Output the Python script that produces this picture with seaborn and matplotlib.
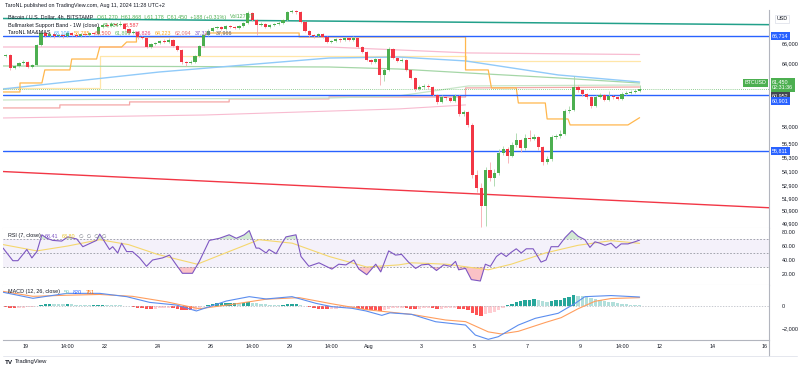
"""BTCUSD 4h chart (TradingView screenshot, Aug 11 2024) redrawn with seaborn."""

import numpy as np
import matplotlib
matplotlib.use('Agg')
import matplotlib.pyplot as plt
import seaborn as sns
from matplotlib.lines import Line2D
from matplotlib.offsetbox import TextArea, HPacker, AnchoredOffsetbox
from matplotlib.ticker import FixedLocator, FixedFormatter, NullLocator

# x unit everywhere: day of July (Aug 1 = 32), local time UTC+2
first_candle_day = 18 + 2 / 24   # first 4h candle opens Jul 18 02:00

opens = [64885, 64684, 64784, 63493, 63690, 63986, 64085, 63591, 63788, 65796,
         67030, 66719, 66926, 66719, 66823, 66719, 67030, 66823, 66719, 66926,
         66823, 67030, 66926, 67656, 67866, 67761, 67972, 67866, 67972, 67447,
         67030, 67134, 66616, 66513, 65592, 65898, 66000, 66205, 66102, 66307,
         65694, 65288, 64085, 63986, 64085, 64684, 65694, 66823, 67238, 67552,
         67656, 67447, 67761, 67656, 67552, 67761, 68077, 69140, 68394, 67866,
         67972, 67656, 67866, 67972, 68077, 68394, 69248, 69355, 69248, 68183,
         67238, 66823, 66719, 66926, 66616, 66102, 66205, 66410, 66307, 66513,
         66307, 66513, 65592, 65086, 64284, 64085, 64384, 62808, 63296, 65389,
         64484, 64185, 64284, 63296, 62516, 61460, 61651, 61747, 61651, 60892,
         60235, 60703, 60609, 60328, 60797, 59126, 59309, 58127, 53795, 52722,
         51273, 54213, 53546, 53962, 55660, 56006, 55402, 56354, 56792, 56093,
         56968, 56880, 57056, 56180, 54889, 55145, 57056, 57145, 57322, 59401,
         59493, 61651, 61365, 60986, 60703, 59863, 60703, 60892, 60422, 60797,
         60703, 60515, 60986, 61081, 61175, 61270]
highs = [65000, 64900, 64880, 63800, 64100, 64250, 64200, 63900, 65900, 67300,
         67150, 67050, 67000, 66950, 66900, 67150, 67100, 66900, 67000, 67050,
         67150, 67100, 67800, 68000, 68050, 68150, 68100, 68250, 68100, 67550,
         67300, 67200, 66750, 66600, 66000, 66150, 66350, 66400, 66500, 66400,
         65800, 65350, 64200, 64300, 64800, 65800, 66950, 67400, 67700, 67800,
         67750, 67900, 67850, 67750, 67900, 68200, 69400, 69250, 68500, 68150,
         68050, 67950, 68100, 68250, 68550, 69400, 69550, 69500, 69400, 68300,
         67350, 66950, 67050, 67000, 66700, 66350, 66550, 66500, 66650, 66600,
         66700, 66600, 65700, 65150, 64400, 64500, 64450, 63450, 65550, 65450,
         64600, 64450, 64350, 63400, 62600, 61800, 61900, 61900, 61750, 61000,
         60850, 60800, 60750, 60950, 60900, 59500, 59400, 58300, 54200, 53100,
         54500, 54900, 54300, 56000, 56300, 56150, 56600, 57400, 56900, 57300,
         57700, 57300, 57150, 56300, 55400, 57250, 57300, 57700, 59600, 59900,
         62700, 61800, 61500, 61100, 60800, 60850, 61050, 61000, 61300, 60900,
         60800, 61150, 61250, 61350, 61450, 61868]
lows = [64580, 64550, 63300, 63350, 63600, 63900, 63450, 63500, 63650, 65700,
        66600, 66600, 66550, 66600, 66550, 66650, 66700, 66600, 66650, 66700,
        66750, 66800, 66850, 67550, 67650, 67700, 67750, 67800, 67350, 66900,
        66950, 66450, 66400, 65450, 65500, 65800, 65900, 66000, 66000, 65600,
        65150, 63900, 63700, 63850, 63950, 64600, 65600, 66700, 67150, 67400,
        67300, 67350, 67550, 67400, 67450, 67700, 68000, 68250, 66800, 67750,
        67550, 67550, 67750, 67850, 68000, 68300, 69100, 69050, 68050, 67100,
        66650, 66550, 66600, 66500, 65950, 65950, 66100, 66150, 66200, 66200,
        66250, 65450, 64950, 64150, 63900, 63950, 61850, 62200, 63200, 64350,
        64050, 64050, 63150, 62400, 61300, 61350, 61500, 61450, 60750, 60050,
        60100, 60450, 60200, 60200, 58950, 58900, 57900, 53500, 52400, 49650,
        49700, 53300, 52900, 53800, 55450, 54800, 55300, 56200, 55700, 55950,
        56700, 56750, 55900, 54650, 54700, 55000, 56900, 57000, 57200, 59200,
        59400, 61200, 60800, 60500, 59700, 59750, 60600, 60300, 60350, 60550,
        60400, 60450, 60900, 61000, 61100, 61178]
closes = [64684, 64784, 63493, 63690, 63986, 64085, 63591, 63788, 65796, 67030,
          66719, 66926, 66719, 66823, 66719, 67030, 66823, 66719, 66926, 66823,
          67030, 66926, 67656, 67866, 67761, 67972, 67866, 67972, 67447, 67030,
          67134, 66616, 66513, 65592, 65898, 66000, 66205, 66102, 66307, 65694,
          65288, 64085, 63986, 64085, 64684, 65694, 66823, 67238, 67552, 67656,
          67447, 67761, 67656, 67552, 67761, 68077, 69140, 68394, 67866, 67972,
          67656, 67866, 67972, 68077, 68394, 69248, 69355, 69248, 68183, 67238,
          66823, 66719, 66926, 66616, 66102, 66205, 66410, 66307, 66513, 66307,
          66513, 65592, 65086, 64284, 64085, 64384, 62808, 63296, 65389, 64484,
          64185, 64284, 63296, 62516, 61460, 61651, 61747, 61651, 60892, 60235,
          60703, 60609, 60328, 60797, 59126, 59309, 58127, 53795, 52722, 51273,
          54213, 53546, 53962, 55660, 56006, 55402, 56354, 56792, 56093, 56968,
          56880, 57056, 56180, 54889, 55145, 57056, 57145, 57322, 59401, 59493,
          61651, 61365, 60986, 60703, 59863, 60703, 60892, 60422, 60797, 60703,
          60515, 60986, 61081, 61175, 61270, 61450]

# drawn lines on the price pane
teal_trend_days = [18.147, 47.15]
teal_trend_prices = [68550, 67900]
red_trend_days = [18.147, 47.15]
red_trend_prices = [54080, 51130]
blue_levels = [66714, 60901, 55811]

# moving averages / bands (vertices)
ma_blue_days = [18.15, 24.07, 30.49, 33.13, 35.66, 39.17, 42.25]
ma_blue_prices = [61460, 63100, 64480, 64580, 64190, 62810, 62130]
ma_green_days = [18.15, 30.49, 33.13, 35.77, 39.17, 42.25]
ma_green_prices = [63690, 63590, 63390, 63000, 62520, 62030]
ma_lgreen_days = [18.15, 30.49, 33.13, 35.77, 42.25]
ma_lgreen_prices = [60420, 60610, 60800, 61750, 61840]
ma_pink_days = [18.15, 30.49, 33.13, 35.77, 42.25]
ma_pink_prices = [65590, 65590, 65290, 64990, 64830]
ma_gold_days = [18.15, 21.81, 21.81, 35.66, 35.66, 42.25]
ma_gold_prices = [61560, 61560, 64680, 64680, 64220, 64220]
ma_salmon_days = [18.15, 20.30, 20.30, 22.94, 22.94, 26.71, 26.71, 30.49, 30.49,
                  35.66, 35.66, 42.25]
ma_salmon_prices = [59680, 59680, 59960, 59960, 60240, 60240, 60520, 60520, 60700,
                    60700, 61560, 61650]
ma_rose_days = [18.15, 25.77, 33.13, 35.66]
ma_rose_prices = [58760, 59030, 59590, 59960]
stop_days = [18.147, 18.79, 18.79, 19.62, 19.73, 20.68, 20.75, 21.69, 21.81, 22.64,
             22.83, 23.20, 23.20, 25.77, 25.85, 29.36, 29.36, 35.66, 35.66, 36.52,
             36.64, 37.58, 37.66, 38.68, 38.75, 39.54, 39.62, 41.81, 42.25]
stop_prices = [61175, 61175, 62034, 62034, 63300, 63300, 64380, 64380, 65590, 65590,
               66100, 66100, 66620, 66620, 67030, 67030, 66620, 66620, 63300, 63300,
               61560, 61560, 60140, 60140, 58670, 58670, 58130, 58130, 58785]

# RSI (7) and its moving average
rsi_days = [18.15, 18.52, 18.71, 19.05, 19.24, 19.43, 19.62, 19.81, 20.03, 20.37,
            20.60, 20.94, 21.17, 21.69, 21.81, 22.18, 22.30, 22.49, 22.64, 22.83,
            23.05, 23.32, 23.58, 23.81, 24.19, 24.45, 24.71, 24.94, 25.32, 25.58,
            25.96, 26.34, 26.71, 26.98, 27.28, 27.47, 27.73, 27.84, 28.11, 28.22,
            28.49, 28.68, 28.86, 29.24, 29.43, 29.73, 30.11, 30.60, 30.86, 31.13,
            31.43, 31.62, 31.92, 32.26, 32.45, 32.75, 33.01, 33.24, 33.50, 33.77,
            33.99, 34.26, 34.56, 34.83, 35.09, 35.28, 35.40, 35.66, 35.88, 36.22,
            36.41, 36.60, 36.83, 37.01, 37.20, 37.39, 37.58, 37.77, 37.96, 38.22,
            38.52, 38.71, 38.90, 39.17, 39.43, 39.69, 39.92, 40.18, 40.37, 40.56,
            40.75, 40.94, 41.17, 41.36, 41.55, 41.81, 42.07, 42.25]
rsi_vals = [57, 39, 39, 55, 43, 52, 76, 71, 68, 67,
            73, 70, 59, 68, 77, 55, 59, 50, 64, 52,
            52, 43, 31, 40, 43, 47, 33, 21, 21, 38,
            68, 71, 76, 71, 76, 82, 57, 57, 50, 55,
            49, 62, 73, 76, 45, 31, 36, 27, 34, 33,
            40, 27, 19, 34, 23, 53, 47, 48, 37, 28,
            33, 34, 25, 33, 31, 38, 26, 28, 12, 10,
            34, 31, 45, 50, 45, 51, 56, 50, 56, 56,
            37, 40, 59, 59, 72, 82, 74, 69, 58, 66,
            64, 61, 64, 57, 63, 63, 66, 68.41]
rsi_ma_days = [18.15, 19.43, 20.60, 21.81, 22.90, 24.00, 25.50, 26.70, 27.84, 29.10,
               30.50, 31.92, 33.13, 33.62, 34.95, 36.52, 37.39, 38.68, 39.92, 41.17, 42.25]
rsi_ma_vals = [62, 53, 60, 69, 62, 48, 34, 52, 69, 64,
               45, 30, 33, 36, 34, 26, 34, 50, 61, 67.6, 63.8]

# MACD (12, 26)
macd_days = [18.15, 19.28, 20.56, 21.81, 22.83, 23.70, 24.71, 25.47, 26.60, 27.47,
             28.11, 29.09, 30.00, 30.60, 31.36, 31.89, 32.49, 32.80, 33.62, 34.53,
             35.66, 36.03, 36.52, 36.90, 37.66, 38.30, 39.17, 39.81, 40.18, 41.17, 42.25]
macd_vals = [1250, 700, 1150, 1150, 850, 330, 90, -450, 450, 850,
             640, 850, 240, -60, -210, -450, -850, -620, -760, -1430,
             -1730, -2640, -3030, -2790, -1730, -1120, -660, 240, 850, 950, 820]
signal_days = [18.15, 19.28, 20.56, 21.81, 23.05, 24.34, 25.58, 26.83, 28.11, 29.36,
               30.60, 31.89, 33.13, 33.62, 34.90, 35.66, 36.52, 37.01, 37.66, 38.68,
               39.28, 39.92, 40.56, 41.17, 42.25]
signal_vals = [1330, 880, 980, 1050, 880, 380, -250, 150, 620, 760,
               200, -330, -640, -760, -1270, -1420, -2350, -2540, -2300, -1500,
               -1060, -250, 430, 680, 761]
macd_hist = [-100, -130, -190, -220, -200, -160, -120, -70, 20, 120,
             170, 190, 180, 175, 160, 170, 150, 130, 110, 95,
             85, 90, 110, 115, 105, 90, 80, 60, 20, -40,
             -90, -150, -190, -270, -290, -260, -220, -190, -170, -200,
             -240, -330, -380, -390, -330, -200, -20, 110, 190, 250,
             280, 290, 300, 300, 290, 300, 360, 300, 230, 180,
             140, 110, 90, 80, 90, 160, 190, 200, 120, 0,
             -120, -200, -230, -260, -300, -280, -250, -220, -190, -170,
             -150, -200, -250, -320, -370, -380, -450, -400, -250, -210,
             -200, -190, -200, -240, -260, -230, -200, -180, -220, -260,
             -240, -220, -200, -170, -260, -280, -380, -620, -780, -880,
             -760, -650, -520, -330, -150, 50, 200, 350, 420, 520,
             580, 620, 560, 430, 330, 430, 520, 590, 720, 850,
             1000, 940, 880, 800, 690, 610, 540, 470, 400, 330,
             270, 210, 160, 120, 80, 59]

tick_days = [19, 20 + 14 / 24, 22, 24, 26, 27 + 14 / 24, 29, 30 + 14 / 24, 32, 34, 36,
             38, 40, 41 + 14 / 24, 43, 45, 47]
tick_labels = ['19', '14:00', '22', '24', '26', '14:00', '29', '14:00', 'Aug', '3', '5',
               '7', '9', '14:00', '12', '14', '16']
price_ticks = [66000, 64000, 58000, 56500, 55300, 54100, 52900, 51900, 50900, 49900]

# ---- style ----
UP, DOWN = '#4caf50', '#f23645'
TXT = '#131722'
FS = 3.9
W, H = 800, 370

sns.set_theme(style='white')
plt.rcParams['font.family'] = ['Liberation Sans', 'DejaVu Sans']

fig = plt.figure(figsize=(W / 100, H / 100), dpi=100)


def rect(top, bottom):
    return [3 / W, 1 - bottom / H, (769 - 3) / W, (bottom - top) / H]


ax = fig.add_axes(rect(10, 228))
ax_rsi = fig.add_axes(rect(228, 285), sharex=ax)
ax_macd = fig.add_axes(rect(285, 340), sharex=ax)

for a in (ax, ax_rsi, ax_macd):
    a.set_facecolor('white')
    for s in ('top', 'left'):
        a.spines[s].set_visible(False)
    a.spines['right'].set_color('#b2b5be')
    a.spines['right'].set_linewidth(0.8)
    a.spines['bottom'].set_color('#e0e3eb')
    a.spines['bottom'].set_linewidth(0.8)
    a.tick_params(axis='y', which='both', left=False, right=False, labelleft=False,
                  labelright=True, labelsize=FS, pad=3, colors=TXT)
    a.tick_params(axis='x', which='both', length=0, labelsize=FS, colors=TXT, pad=3)
ax_macd.spines['bottom'].set_color('#b2b5be')
ax.tick_params(axis='x', labelbottom=False)
ax_rsi.tick_params(axis='x', labelbottom=False)

# ---- price pane ----
o, h, l, c = (np.array(v, dtype=float) for v in (opens, highs, lows, closes))
t = first_candle_day + np.arange(len(c)) / 6
up = c >= o
body_col = np.where(up, UP, DOWN)
wick_col = np.where(up, '#a5d6a7', '#f7a8ae')

ax.set_yscale('log')

line_specs = [
    (ma_rose_days, ma_rose_prices, '#f8bbd0', 0.8),
    (ma_salmon_days, ma_salmon_prices, '#f4a6a6', 0.9),
    (ma_lgreen_days, ma_lgreen_prices, '#c8e6c9', 0.9),
    (ma_gold_days, ma_gold_prices, '#ffe6a8', 0.9),
    (ma_green_days, ma_green_prices, '#a5d6a7', 0.9),
    (ma_pink_days, ma_pink_prices, '#f8bbd0', 0.9),
    (ma_blue_days, ma_blue_prices, '#90caf9', 1.0),
    (stop_days, stop_prices, '#ffb74d', 0.9),
]
for xs, ys, col, lw in line_specs:
    sns.lineplot(x=xs, y=ys, ax=ax, color=col, lw=lw, estimator=None, sort=False,
                 legend=False)

sns.lineplot(x=teal_trend_days, y=teal_trend_prices, ax=ax, color='#22a08a', lw=1.1,
             estimator=None, legend=False)
sns.lineplot(x=red_trend_days, y=red_trend_prices, ax=ax, color=DOWN, lw=1.0,
             estimator=None, legend=False)
for lvl in blue_levels:
    ax.axhline(lvl, color='#2962ff', lw=1.0)
ax.axhline(c[-1], color=UP, lw=0.6, ls=(0, (1, 1.5)), alpha=0.8)

ax.vlines(t, l, h, colors=wick_col, lw=0.6, zorder=3)
ax.bar(t, np.maximum(np.abs(c - o), 30), bottom=np.minimum(o, c), width=0.12,
       color=body_col, linewidth=0, zorder=4)

ax.set_ylim(49550, 69460)
ax.yaxis.set_major_locator(FixedLocator(price_ticks))
ax.yaxis.set_major_formatter(FixedFormatter([f'{p:,}' for p in price_ticks]))
ax.yaxis.set_minor_locator(NullLocator())

# ---- RSI pane ----
rsi_d = np.array(rsi_days)
rsi_v = np.array(rsi_vals)
ax_rsi.axhspan(30, 70, color='#7e57c2', alpha=0.08, lw=0)
for lvl in (70, 50, 30):
    ax_rsi.axhline(lvl, color='#9598a1', lw=0.6, ls=(0, (2, 2)))
ax_rsi.fill_between(rsi_d, 70, rsi_v, where=rsi_v > 70, interpolate=True,
                    color=UP, alpha=0.25, lw=0)
ax_rsi.fill_between(rsi_d, 30, rsi_v, where=rsi_v < 30, interpolate=True,
                    color=DOWN, alpha=0.3, lw=0)
sns.lineplot(x=rsi_ma_days, y=rsi_ma_vals, ax=ax_rsi, color='#f5d76e', lw=0.8,
             estimator=None, legend=False)
sns.lineplot(x=rsi_days, y=rsi_vals, ax=ax_rsi, color='#7e57c2', lw=0.8,
             estimator=None, legend=False)
ax_rsi.set_ylim(4.3, 85.7)
ax_rsi.yaxis.set_major_locator(FixedLocator([20, 40, 60, 80]))
ax_rsi.yaxis.set_major_formatter(FixedFormatter(['20.00', '40.00', '60.00', '80.00']))

# ---- MACD pane ----
hist = np.array(macd_hist, dtype=float)
prev = np.r_[hist[0], hist[:-1]]
hist_col = np.where(hist > 0,
                    np.where(hist >= prev, '#26a69a', '#b2dfdb'),
                    np.where(hist <= prev, '#ff5252', '#ffcdd2'))
ax_macd.axhline(0, color='#b2b5be', lw=0.5, ls=(0, (2, 2)))
ax_macd.bar(t, hist, width=0.13, color=hist_col, linewidth=0)
sns.lineplot(x=signal_days, y=signal_vals, ax=ax_macd, color='#ff9e5e', lw=0.8,
             estimator=None, legend=False)
sns.lineplot(x=macd_days, y=macd_vals, ax=ax_macd, color='#5b8def', lw=0.8,
             estimator=None, legend=False)
ax_macd.set_ylim(-3090, 1910)
ax_macd.yaxis.set_major_locator(FixedLocator([-2000, 0]))
ax_macd.yaxis.set_major_formatter(FixedFormatter(['\u22122,000', '0']))

ax_macd.set_xlim(18.147, 47.15)
ax_macd.xaxis.set_major_locator(FixedLocator(tick_days))
ax_macd.xaxis.set_major_formatter(FixedFormatter(tick_labels))

for a in (ax, ax_rsi, ax_macd):
    a.set_xlabel('')
    a.set_ylabel('')


# ---- axis tags ----
def tag(a, value, text, fc, dy=0.0, left=False, tc='white'):
    a.annotate(text, xy=(1, value), xycoords=a.get_yaxis_transform(),
               xytext=(-2 if left else 2.2, dy), textcoords='offset points',
               ha='right' if left else 'left', va='center', fontsize=FS, color=tc,
               linespacing=1.15, annotation_clip=False, zorder=10,
               bbox=dict(boxstyle='square,pad=0.25', fc=fc, ec='none'))


tag(ax, 66714, '66,714', '#2962ff')
tag(ax, c[-1], '61,450\n02:31:36', UP, dy=3.0)
tag(ax, c[-1], 'BTCUSD', UP, dy=4.6, left=True)
tag(ax, 60952, '60,952', '#434651', dy=-0.8)
tag(ax, 60901, '60,901', '#2962ff', dy=-4.4)
tag(ax, 55811, '55,811', '#2962ff')

fig.text(782 / W, 1 - 19 / H, 'USD', fontsize=FS, color=TXT, ha='center', va='center',
         bbox=dict(boxstyle='square,pad=0.35', fc='white', ec='#e0e3eb', lw=0.6))


# ---- legends ----
def legend_row(a, y_px, parts, x_px=8):
    boxes = [TextArea(s, textprops=dict(color=col, fontsize=FS)) for s, col in parts]
    row = HPacker(children=boxes, align='center', pad=0, sep=2.6)
    box = AnchoredOffsetbox(loc='center left', child=row, pad=0, borderpad=0,
                            frameon=False, bbox_to_anchor=(x_px / W, 1 - y_px / H),
                            bbox_transform=fig.transFigure)
    box.set_zorder(12)
    box.set_clip_on(False)
    a.add_artist(box)


legend_row(ax, 17, [('Bitcoin / U.S. Dollar, 4h, BITSTAMP', TXT),
                    ('O61,270  H61,868  L61,178  C61,450  +188 (+0.31%)', UP),
                    ('Vol127.37', UP)])
legend_row(ax, 25, [('Bullmarket Support Band - 1W (close)', TXT),
                    ('61,704', UP), ('63,587', DOWN)])
legend_row(ax, 33, [('TaroNL MA&MAS', TXT), ('63,108', '#42a5f5'), ('58,785', '#ffa726'),
                    ('63,500', '#ef5350'), ('61,899', '#66bb6a'), ('64,826', '#ec407a'),
                    ('64,223', '#f9a825'), ('62,094', '#e57373'), ('37,316', '#7e57c2'),
                    ('37,966', '#5d606b')])
legend_row(ax_rsi, 236, [('RSI (7, close)', TXT), ('68.41', '#7e57c2'), ('63.80', '#e6c229'),
                         ('\u2205  \u2205  \u2205  \u2205', '#787b86')])
legend_row(ax_macd, 292, [('MACD (12, 26, close)', TXT), ('59', '#80cbc4'),
                          ('820', '#2962ff'), ('761', '#ff6d00')])

fig.text(5 / W, 1 - 5 / H, 'TaroNL published on TradingView.com, Aug 11, 2024 11:28 UTC+2',
         fontsize=FS, color=TXT, ha='left', va='center')
fig.text(5 / W, 1 - 362 / H, 'TV', fontsize=4.6, weight='bold', color=TXT, ha='left',
         va='center')
fig.text(15 / W, 1 - 362 / H, 'TradingView', fontsize=4.2, color=TXT, ha='left',
         va='center')

# frame of the time scale strip
fig.add_artist(Line2D([769 / W, 769 / W], [1 - 356 / H, 1 - 340 / H],
                      transform=fig.transFigure, color='#b2b5be', lw=0.8))
fig.add_artist(Line2D([3 / W, 797 / W], [1 - 356 / H, 1 - 356 / H],
                      transform=fig.transFigure, color='#e0e3eb', lw=0.6))

fig.savefig('out.png', dpi=100)
plt.close(fig)
